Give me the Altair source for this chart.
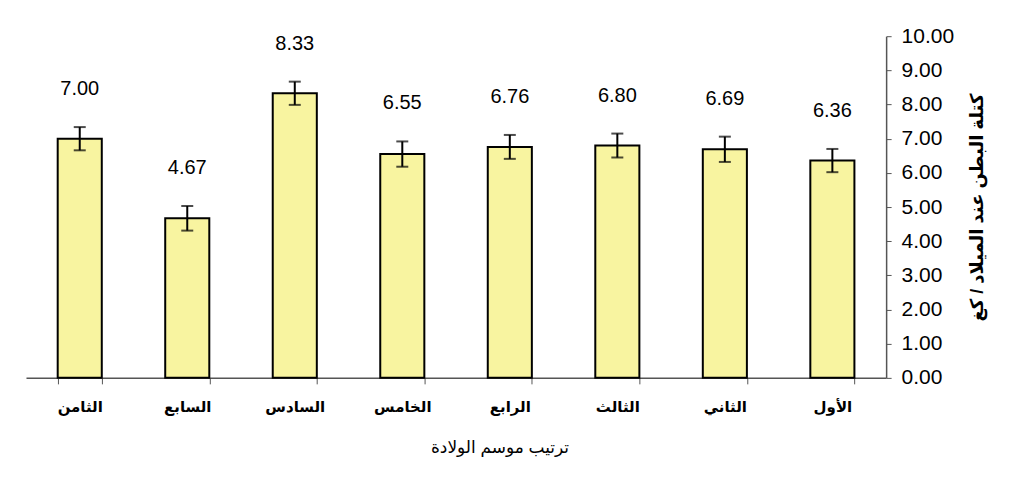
import altair as alt
import pandas as pd

categories = ["الثامن", "السابع", "السادس", "الخامس", "الرابع", "الثالث", "الثاني", "الأول"]
means = [7.00, 4.67, 8.33, 6.55, 6.76, 6.80, 6.69, 6.36]
errors = [0.34, 0.36, 0.34, 0.37, 0.35, 0.35, 0.37, 0.34]
y_ticks = [0, 1, 2, 3, 4, 5, 6, 7, 8, 9, 10]

df = pd.DataFrame({"cat": categories, "mean": means, "err": errors})
df["lo"] = df["mean"] - df["err"]
df["hi"] = df["mean"] + df["err"]

FONT = "Liberation Sans, Arial, DejaVu Sans"

x_axis = alt.Axis(
    title="ترتيب موسم الولادة",
    labelAngle=0,
    labelFontSize=15,
    labelFontWeight="bold",
    labelFont=FONT,
    labelColor="black",
    labelPadding=16,
    tickBand="extent",
    tickSize=6,
    tickColor="#555",
    domainColor="#555",
    domainWidth=1.5,
    titleFontSize=17,
    titleFontWeight="normal",
    titleFont=FONT,
    titleColor="black",
    titlePadding=25,
    titleX=474,
)

y_axis = alt.Axis(
    orient="right",
    values=y_ticks,
    format=".2f",
    grid=False,
    labelOverlap=False,
    title="كتلة البطن عند الميلاد / كغ",
    titleAngle=270,
    titleFontSize=18,
    titleFontWeight="bold",
    titleFont=FONT,
    titleColor="black",
    titlePadding=33,
    labelFontSize=21,
    labelFont=FONT,
    labelColor="black",
    labelPadding=10,
    tickSize=5,
    tickColor="#555",
    domainColor="#555",
    domainWidth=1.5,
)

x_scale = alt.Scale(paddingInner=0.59, paddingOuter=0.295)
y_scale = alt.Scale(domain=[0, 10], nice=False)


def xe():
    return alt.X("cat:N", sort=categories, scale=x_scale, axis=x_axis)


def ye(field):
    return alt.Y(field, type="quantitative", scale=y_scale, axis=y_axis)


bars = alt.Chart(df).mark_bar(
    color="#F8F4A0", stroke="black", strokeWidth=2
).encode(x=xe(), y=ye("mean"))

rules = alt.Chart(df).mark_rule(color="black", strokeWidth=2).encode(
    x=xe(), y=ye("lo"), y2="hi:Q"
)

caps_hi = alt.Chart(df).mark_tick(color="black", thickness=2, size=12).encode(
    x=xe(), y=ye("hi")
)
caps_lo = alt.Chart(df).mark_tick(color="black", thickness=2, size=12).encode(
    x=xe(), y=ye("lo")
)

labels = alt.Chart(df).mark_text(
    fontSize=20, font=FONT, color="black", baseline="middle", dy=-38
).encode(
    x=xe(),
    y=ye("hi"),
    text=alt.Text("mean:Q", format=".2f"),
)

chart = alt.layer(bars, rules, caps_hi, caps_lo, labels).properties(
    width=861,
    height=342,
    autosize=alt.AutoSizeParams(type="none"),
    padding={"left": 18, "top": 28, "right": 130, "bottom": 94},
).configure(background="white").configure_view(stroke=None)

chart.save("out.html", embed_options={"renderer": "svg", "actions": False})
